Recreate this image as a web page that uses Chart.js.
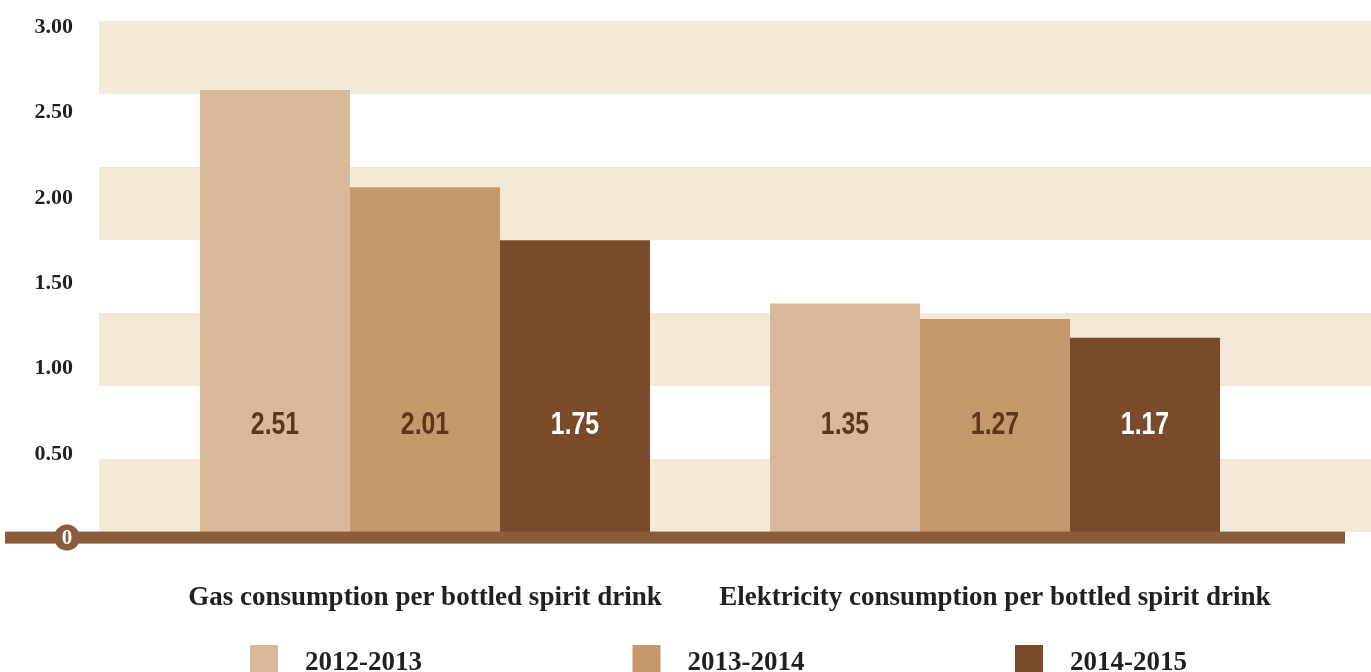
<!DOCTYPE html>
<html>
<head>
<meta charset="utf-8">
<script src="https://cdn.jsdelivr.net/npm/chart.js@4"></script>
<style>
  html, body { margin: 0; padding: 0; background: #fff; overflow: hidden; }
  #wrap { width: 1371px; height: 672px; }
</style>
</head>
<body>
<div id="wrap"><canvas id="energyChart" width="1371" height="672"></canvas></div>
<script>
var categories = ['Gas consumption per bottled spirit drink', 'Elektricity consumption per bottled spirit drink'];
var seasons = ['2012-2013', '2013-2014', '2014-2015'];
// bar heights as they are drawn against the axis
var values2012 = [2.62, 1.37];
var values2013 = [2.05, 1.28];
var values2014 = [1.74, 1.17];
// numbers printed inside the bars
var printed2012 = ['2.51', '1.35'];
var printed2013 = ['2.01', '1.27'];
var printed2014 = ['1.75', '1.17'];
var yTicks = [0, 0.5, 1, 1.5, 2, 2.5, 3];

var serif = '"Liberation Serif", "DejaVu Serif", serif';
var sans = '"Liberation Sans", Arial, sans-serif';

// alternating beige stripes behind the bars
var bands = {
    id: 'bands',
    beforeDatasetsDraw: function (chart) {
        var a = chart.chartArea, ctx = chart.ctx;
        var top = a.top - 4, bottom = a.bottom - 5.5;
        var h = (bottom - top) / 7;
        var left = a.left - 41;
        ctx.save();
        ctx.fillStyle = '#F3E9D6';
        for (var i = 0; i < 7; i += 2) {
            ctx.fillRect(left, top + i * h, chart.width - left, h);
        }
        ctx.restore();
    }
};

// thick base line with the "0" badge, plus the values inside the bars
var baseline = {
    id: 'baseline',
    afterDatasetsDraw: function (chart) {
        var ctx = chart.ctx;
        var y0 = chart.scales.y.getPixelForValue(0);
        ctx.save();
        ctx.fillStyle = '#8A5C3B';
        ctx.fillRect(5, y0 - 6, 1340, 12);
        ctx.beginPath();
        ctx.arc(67, y0, 13, 0, Math.PI * 2);
        ctx.fill();
        ctx.fillStyle = '#fff';
        ctx.font = 'bold 21px ' + serif;
        ctx.textAlign = 'center';
        ctx.textBaseline = 'middle';
        ctx.fillText('0', 67, y0 + 1);

        // condensed look for the bar numbers
        ctx.font = 'bold 31px ' + sans;
        chart.data.datasets.forEach(function (ds, i) {
            chart.getDatasetMeta(i).data.forEach(function (bar, j) {
                ctx.save();
                ctx.translate(bar.x, y0 - 112);
                ctx.scale(0.8, 1);
                ctx.fillStyle = ds.textColor;
                ctx.fillText(ds.printed[j], 0, 0);
                ctx.restore();
            });
        });
        ctx.restore();
    }
};

// legend row along the bottom edge
var legendRow = {
    id: 'legendRow',
    afterDraw: function (chart) {
        var ctx = chart.ctx;
        ctx.save();
        ctx.font = 'bold 27px ' + serif;
        ctx.textBaseline = 'alphabetic';
        ctx.textAlign = 'left';
        chart.data.datasets.forEach(function (ds, i) {
            var x = 250 + i * 382.5;
            ctx.fillStyle = ds.backgroundColor;
            ctx.fillRect(x, 645, 28, 28);
            ctx.fillStyle = '#231F20';
            ctx.fillText(ds.label, x + 55, 670);
        });
        ctx.restore();
    }
};

var ctx = document.getElementById('energyChart').getContext('2d');
var energyChart = new Chart(ctx, {
    type: 'bar',
    data: {
        labels: categories,
        datasets: [{
            label: seasons[0],
            data: values2012,
            printed: printed2012,
            backgroundColor: '#D7B99A',
            textColor: '#5D3618'
        }, {
            label: seasons[1],
            data: values2013,
            printed: printed2013,
            backgroundColor: '#C4986B',
            textColor: '#5D3618'
        }, {
            label: seasons[2],
            data: values2014,
            printed: printed2014,
            backgroundColor: '#7A4B2A',
            textColor: '#FFFFFF'
        }]
    },
    options: {
        responsive: false,
        animation: false,
        layout: { padding: { top: 25, right: 91, bottom: 14, left: 0 } },
        datasets: {
            bar: { barPercentage: 1, categoryPercentage: 0.7895, borderWidth: 0 }
        },
        plugins: {
            legend: { display: false },
            tooltip: { enabled: false }
        },
        scales: {
            x: {
                grid: { display: false, drawTicks: false },
                border: { display: false },
                ticks: {
                    color: '#231F20',
                    font: { family: serif, size: 27, weight: 'bold' },
                    padding: 44,
                    maxRotation: 0,
                    autoSkip: false
                }
            },
            y: {
                min: 0,
                max: 3,
                grid: { display: false, drawTicks: false },
                border: { display: false },
                afterBuildTicks: function (scale) {
                    scale.ticks = yTicks.map(function (v) { return { value: v }; });
                },
                afterFit: function (scale) {
                    scale.width = 140;
                    scale.paddingTop = 0;
                    scale.paddingBottom = 0;
                },
                ticks: {
                    color: '#231F20',
                    font: { family: serif, size: 22, weight: 'bold' },
                    padding: 67,
                    labelOffset: 2,
                    callback: function (v) { return v === 0 ? '' : Number(v).toFixed(2); }
                }
            }
        }
    },
    plugins: [bands, baseline, legendRow]
});
</script>
</body>
</html>
